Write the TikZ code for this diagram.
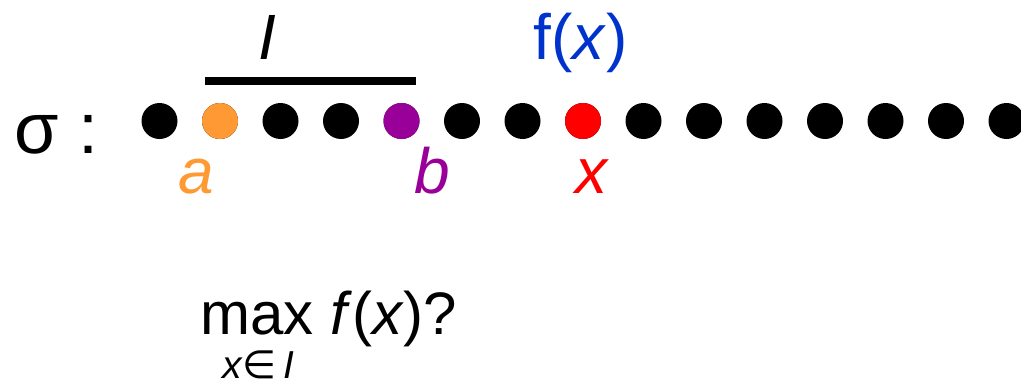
\documentclass[tikz,border=0pt]{standalone}
\usepackage{fontspec}
\setmainfont{Liberation Sans}
\newfontfamily\symfont{DejaVu Sans}
\definecolor{dotorange}{HTML}{FF9933}
\definecolor{dotpurple}{HTML}{990099}
\definecolor{dotred}{HTML}{FF0000}
\definecolor{fblue}{HTML}{0033CC}
\begin{document}
\begin{tikzpicture}[x=1pt,y=-1pt,
  dot/.style={circle,fill=black,inner sep=0pt,minimum size=36pt},
  lbl/.style={inner sep=0pt,anchor=base,font=\fontsize{64}{70}\selectfont}]
\useasboundingbox (0,0) rectangle (1021,383);
\foreach \i in {0,...,14}{
  \node[dot] (d\i) at ({159.5+60.5*\i},121) {};
}
\node[dot,fill=dotorange] at (d1) {};
\node[dot,fill=dotpurple] at (d4) {};
\node[dot,fill=dotred] at (d7) {};
\node[lbl,anchor=base west,font=\fontsize{72}{78}\selectfont] (sigma) at (14,153) {σ :};
\node[lbl,text=dotorange] (la) at (196,193) {\itshape a};
\node[lbl,text=dotpurple] (lb) at (432,193) {\itshape b};
\node[lbl,text=dotred] (lx) at (591,193) {\itshape x};
\node[lbl] (lI) at (267,59) {\itshape I};
\node[lbl,text=fblue] (fx) at (581,59) {f(\textit{x})};
\coordinate (ia) at (205,81);
\coordinate (ib) at (416,81);
\draw[line width=7.5pt] (ia) -- (ib);
\node[lbl,anchor=base west,font=\fontsize{60}{66}\selectfont] (max) at (200,334) {max \textit{f}(\textit{x})?};
\node[lbl,anchor=base west,font=\fontsize{39}{44}\selectfont] (sub) at (222,378) {\textit{x}{\symfont ∈}\,\textit{I}};
\end{tikzpicture}
\end{document}
